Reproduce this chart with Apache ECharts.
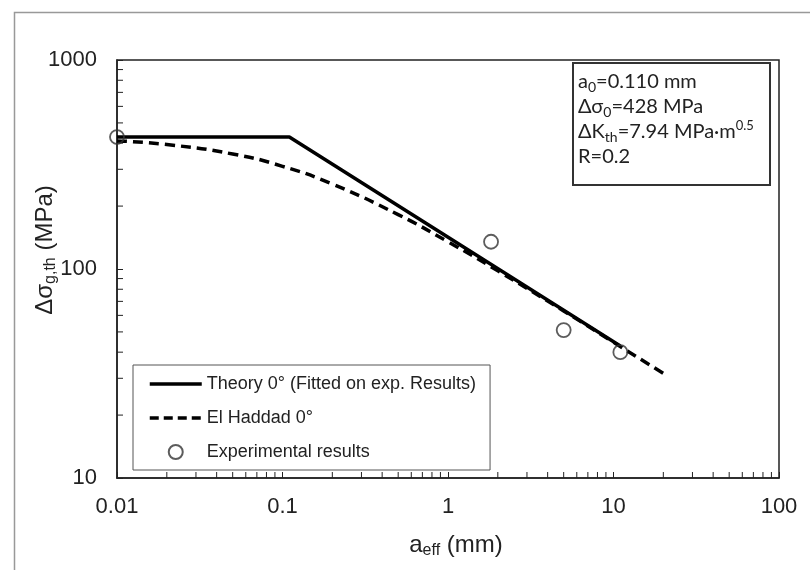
<!DOCTYPE html>
<html>
<head>
<meta charset="utf-8">
<script src="https://cdn.jsdelivr.net/npm/echarts@6/dist/echarts.min.js"></script>
<style>html,body{margin:0;padding:0;background:#fff}#c{width:810px;height:570px}</style>
</head>
<body>
<div id="c"></div>
<script>
// ---- data ----
const theoryA = [0.01, 0.11, 11];
const theoryS = [428, 428, 42.8];
const haddadA = [0.01, 0.02, 0.05, 0.1, 0.2, 0.5, 1, 2, 5, 10, 20];
const haddadS = [410, 394, 355, 310, 255, 182, 135, 98, 63, 44.6, 31.7];
const expA = [0.01, 1.82, 5.0, 11.0];
const expS = [428, 135, 51, 40];
const xMinorTicks = [0.02,0.03,0.04,0.05,0.06,0.07,0.08,0.09,0.2,0.3,0.4,0.5,0.6,0.7,0.8,0.9,2,3,4,5,6,7,8,9,20,30,40,50,60,70,80,90];
const yMinorTicks = [20,30,40,50,60,70,80,90,200,300,400,500,600,700,800,900];
const seriesNames = ['Theory 0° (Fitted on exp. Results)', 'El Haddad 0°', 'Experimental results'];

const pair = (a, b) => a.map((v, i) => [v, b[i]]);
const FONT = 'Liberation Sans';

const chart = echarts.init(document.getElementById('c'), null, {renderer: 'canvas'});
const option = {
  backgroundColor: '#fff',
  animation: false,
  grid: {left: 117, right: 31, top: 60, bottom: 92, show: true, borderColor: '#222', borderWidth: 1.5, backgroundColor: 'transparent'},
  xAxis: {
    type: 'log', logBase: 10, min: 0.01, max: 100,
    axisLine: {lineStyle: {color: '#222', width: 1.5}},
    axisTick: {inside: true, length: 6, lineStyle: {color: '#222', width: 1}},
    axisLabel: {fontFamily: FONT, fontSize: 22, color: '#222', margin: 18,
      formatter: v => String(v)},
    splitLine: {show: false}
  },
  yAxis: {
    type: 'log', logBase: 10, min: 10, max: 1000,
    axisLine: {lineStyle: {color: '#222', width: 1.5}},
    axisTick: {inside: true, length: 6, lineStyle: {color: '#222', width: 1}},
    axisLabel: {fontFamily: FONT, fontSize: 22, color: '#222', margin: 20,
      formatter: v => String(v)},
    splitLine: {show: false}
  },
  legend: {
    orient: 'vertical', left: 133, top: 365,
    data: [
      {name: seriesNames[0], itemStyle: {opacity: 0}, lineStyle: {width: 3.5, color: '#000', type: 'solid'}},
      {name: seriesNames[1], itemStyle: {opacity: 0}, lineStyle: {width: 3.5, color: '#000', type: [9, 5]}},
      {name: seriesNames[2]}
    ],
    itemWidth: 52, itemHeight: 14, itemGap: 16,
    padding: [10, 14, 9, 15],
    backgroundColor: '#fff', borderColor: '#555', borderWidth: 1,
    textStyle: {fontFamily: FONT, fontSize: 18, color: '#222'},
    selectedMode: false
  },
  graphic: [
    {type: 'rect', left: 12, top: 10, silent: true, z: -10,
      shape: {width: 830, height: 600}, style: {fill: 'none', stroke: '#999', lineWidth: 1.5}},
    {type: 'rect', left: 572, top: 62, silent: true,
      shape: {width: 197, height: 122}, style: {fill: '#fff', stroke: '#333', lineWidth: 2}},
    {type: 'text', left: 578, top: 72, silent: true,
      style: {
        text: '{n|a}{sub|0}{n|=0.110 mm}\n{n|Δσ}{sub|0}{n|=428 MPa}\n{n|ΔK}{sub|th}{n|=7.94 MPa·m}{sup|0.5}\n{n|R=0.2}',
        fill: '#222',
        rich: {
          n: {fontFamily: 'Lato', fontSize: 20, lineHeight: 25, fill: '#222'},
          sub: {fontFamily: 'Lato', fontSize: 14, lineHeight: 12, verticalAlign: 'bottom', fill: '#222'},
          sup: {fontFamily: 'Lato', fontSize: 13, lineHeight: 12, verticalAlign: 'top', fill: '#222'}
        }
      }},
    {type: 'text', x: 45, y: 250, rotation: Math.PI / 2, silent: true,
      style: {
        text: '{n|Δσ}{sub|g,th}{n| (MPa)}', align: 'center', verticalAlign: 'middle',
        rich: {
          n: {fontFamily: FONT, fontSize: 24, lineHeight: 28, fill: '#222'},
          sub: {fontFamily: FONT, fontSize: 16, lineHeight: 13, verticalAlign: 'bottom', fill: '#222'}
        }
      }},
    {type: 'text', x: 456, y: 545, silent: true,
      style: {
        text: '{n|a}{sub|eff}{n| (mm)}', align: 'center', verticalAlign: 'middle',
        rich: {
          n: {fontFamily: FONT, fontSize: 24, lineHeight: 28, fill: '#222'},
          sub: {fontFamily: FONT, fontSize: 16, lineHeight: 13, verticalAlign: 'bottom', fill: '#222'}
        }
      }}
  ],
  series: [
    {
      name: seriesNames[0], type: 'line', data: pair(theoryA, theoryS),
      symbol: 'none', lineStyle: {color: '#000', width: 3.5}, itemStyle: {color: '#000'}, z: 3
    },
    {
      name: seriesNames[1], type: 'line', data: pair(haddadA, haddadS), smooth: true,
      symbol: 'none', lineStyle: {color: '#000', width: 3.5, type: [10, 6]}, itemStyle: {color: '#000'}, z: 3
    },
    {
      name: seriesNames[2], type: 'scatter', data: pair(expA, expS),
      symbol: 'circle', symbolSize: 14,
      itemStyle: {color: 'transparent', borderColor: '#333', borderWidth: 1.8}, z: 4
    },
    {
      type: 'custom', silent: true, data: xMinorTicks.map(v => [v, 10]),
      renderItem: (params, api) => {
        const p = api.coord([api.value(0), 10]);
        return {type: 'line', shape: {x1: p[0], y1: p[1], x2: p[0], y2: p[1] - 6}, style: {stroke: '#222', lineWidth: 1}};
      }, z: 2
    },
    {
      type: 'custom', silent: true, data: yMinorTicks.map(v => [0.01, v]),
      renderItem: (params, api) => {
        const p = api.coord([0.01, api.value(1)]);
        return {type: 'line', shape: {x1: p[0], y1: p[1], x2: p[0] + 6, y2: p[1]}, style: {stroke: '#222', lineWidth: 1}};
      }, z: 2
    }
  ]
};
chart.setOption(option);
</script>
</body>
</html>
